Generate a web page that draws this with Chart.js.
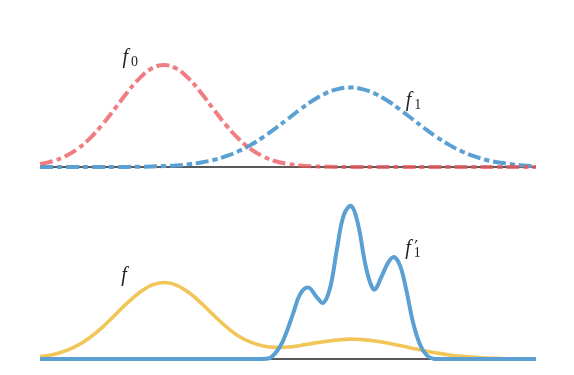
<!DOCTYPE html>
<html>
<head>
<meta charset="utf-8">
<script src="https://cdn.jsdelivr.net/npm/chart.js@4"></script>
<style>
  html, body { margin: 0; padding: 0; background: #fff; }
  #wrap { width: 574px; height: 375px; position: relative; }
  canvas { display: block; }
</style>
</head>
<body>
<div id="wrap">
  <canvas id="top" width="574" height="187"></canvas>
  <canvas id="bottom" width="574" height="188"></canvas>
</div>
<script>
// ── Data ──────────────────────────────────────────────────────
// common grid for the smooth densities
const X_GRID = [-2.0,-1.8,-1.6,-1.4,-1.2,-1.0,-0.8,-0.6,-0.4,-0.2,0.0,0.2,0.4,0.6,0.8,1.0,1.2,1.4,1.6,1.8,
                2.0,2.2,2.4,2.6,2.8,3.0,3.2,3.4,3.6,3.8,4.0,4.2,4.4,4.6,4.8,5.0,5.2,5.4,5.6,5.8,6.0];

const F0 = [0.029,0.056,0.103,0.175,0.278,0.411,0.566,0.726,0.867,0.965,1.000,0.965,0.867,0.726,0.566,0.411,0.278,0.175,0.103,0.056,
            0.029,0.014,0.006,0.003,0.001,0.000,0,0,0,0,0,0,0,0,0,0,0,0,0,0,0];

const F1 = [0,0,0,0,0,0.0003,0.0006,0.0012,0.0024,0.0047,0.0087,0.015,0.027,0.044,0.069,0.106,0.154,0.217,0.293,0.380,
            0.473,0.566,0.652,0.720,0.764,0.780,0.764,0.720,0.652,0.566,0.473,0.380,0.293,0.217,0.154,0.106,0.069,0.044,0.027,0.015,0.0087];

const F_MIX = [0.022,0.042,0.077,0.131,0.209,0.308,0.425,0.545,0.650,0.724,0.750,0.725,0.652,0.548,0.430,0.318,0.226,0.165,0.128,0.114,
               0.117,0.133,0.153,0.171,0.186,0.195,0.190,0.177,0.157,0.132,0.106,0.081,0.059,0.040,0.026,0.017,0.010,0.006,0.003,0.002,0.001];

// f1' is traced on its own (uneven) grid
const F1P_X = [-2.0,1.55,1.71,1.87,1.98,2.09,2.20,2.33,2.46,2.57,2.68,2.79,2.90,3.02,3.13,3.24,3.33,3.40,3.51,3.62,3.71,3.81,3.91,4.02,4.13,4.24,4.36,4.55,6.0];
const F1P_Y = [0,0,0.01,0.12,0.27,0.46,0.64,0.70,0.61,0.55,0.70,1.08,1.41,1.50,1.32,0.95,0.74,0.68,0.81,0.95,1.00,0.91,0.67,0.35,0.14,0.035,0,0,0];

const BASE_X = [-2, 6];
const BASE_Y = [0, 0];

// curve labels  (x, y in data units, y = baseline of the glyph)
const TOP_LABELS = [
    { text: 'f', sub: '0', x: -0.67, y: 1.02 },
    { text: 'f', sub: '1', x: 3.90,  y: 0.60 },
];
const BOTTOM_LABELS = [
    { text: 'f', sub: '',  x: -0.69, y: 0.765 },
    { text: 'f', sub: '1', prime: true, x: 3.89, y: 1.03 },
];

// ── Styles ────────────────────────────────────────────────────
const RED    = 'rgba(234,88,94,0.78)';
const BLUE   = '#5aa0d3';
const YELLOW = '#f1c558';
const INK    = '#222';
const DASHDOT = [13, 4, 5, 4];

const pts = (xs, ys) => xs.map((x, i) => ({ x, y: ys[i] }));

function lineSet(data, color, dash) {
    return {
        data, borderColor: color, borderWidth: 4, borderDash: dash || [],
        pointRadius: 0, fill: false, tension: 0.4, clip: 10,
    };
}

const texLabels = {
    id: 'texLabels',
    afterDatasetsDraw(chart, args, opts) {
        const { ctx, scales: { x, y } } = chart;
        (opts.items || []).forEach(it => {
            const px = x.getPixelForValue(it.x);
            const py = y.getPixelForValue(it.y);
            ctx.save();
            ctx.fillStyle = INK;
            ctx.textBaseline = 'alphabetic';
            ctx.font = 'italic 20px "Liberation Serif"';
            ctx.fillText(it.text, px, py);
            if (it.prime) {
                ctx.font = '17px "DejaVu Sans"';
                ctx.fillText('\u2032', px + 9, py - 1);
            }
            if (it.sub) {
                ctx.font = '14px "Liberation Serif"';
                ctx.fillText(it.sub, px + 8.5, py + 3);
            }
            ctx.restore();
        });
    },
};

function makePanel(id, datasets, yMax, pad, labels) {
    return new Chart(document.getElementById(id), {
        type: 'line',
        data: { datasets },
        options: {
            responsive: false, animation: false,
            layout: { padding: pad },
            plugins: { legend: { display: false }, tooltip: { enabled: false }, texLabels: { items: labels } },
            scales: {
                x: { type: 'linear', min: -2, max: 6, display: false },
                y: { min: 0, max: yMax, display: false },
            },
        },
        plugins: [texLabels],
    });
}

// first dataset is drawn on top
makePanel('top', [
    lineSet(pts(X_GRID, F0), RED, DASHDOT),
    lineSet(pts(X_GRID, F1), BLUE, DASHDOT),
    { ...lineSet(pts(BASE_X, BASE_Y), INK), borderWidth: 1.6 },
], 147 / 102, { left: 40, right: 38, top: 20, bottom: 20 }, TOP_LABELS);

makePanel('bottom', [
    lineSet(pts(F1P_X, F1P_Y), BLUE),
    { ...lineSet(pts(X_GRID, F_MIX), YELLOW), borderWidth: 3.6 },
    { ...lineSet(pts(BASE_X, BASE_Y), INK), borderWidth: 1.6 },
], 164 / 102, { left: 40, right: 38, top: 8, bottom: 16 }, BOTTOM_LABELS);
</script>
</body>
</html>
